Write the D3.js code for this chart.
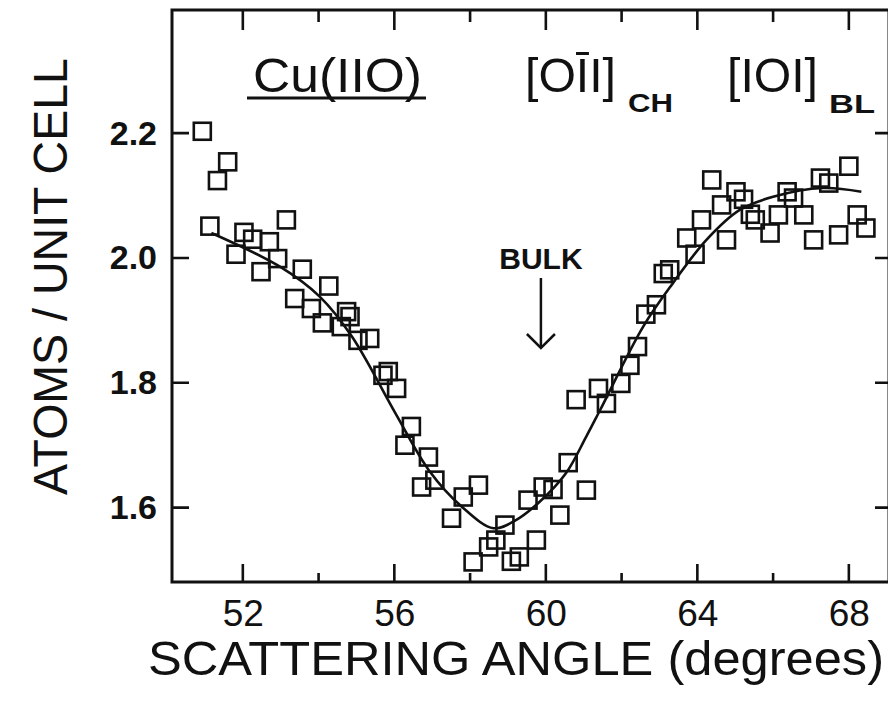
<!DOCTYPE html>
<html>
<head>
<meta charset="utf-8">
<script src="https://cdn.jsdelivr.net/npm/d3@7"></script>
<style>
  body { margin: 0; background: #fff; }
  text { font-family: "Liberation Sans", Arial, sans-serif; fill: #111; }
</style>
</head>
<body>
<svg id="fig"></svg>
<script>
// measured points: scattering angle (deg) and atoms / unit cell
const angle = [50.93, 51.33, 51.60, 51.13, 51.82, 52.03, 52.26, 52.48, 52.70, 52.92,
  53.15, 53.37, 53.57, 53.81, 54.10, 54.27, 54.60, 54.74, 54.83, 55.04,
  55.35, 55.70, 55.84, 56.06, 56.28, 56.45, 56.72, 56.90, 57.07, 57.51,
  57.82, 58.08, 58.22, 58.49, 58.68, 58.92, 59.09, 59.30, 59.53, 59.75,
  59.93, 60.19, 60.37, 60.59, 61.07, 60.80, 61.39, 61.60, 61.98, 62.22,
  62.42, 62.64, 62.92, 63.10, 63.27, 63.72, 63.94, 64.11, 64.38, 64.64,
  64.77, 65.02, 65.22, 65.40, 65.53, 65.92, 66.14, 66.37, 66.54, 66.81,
  67.07, 67.25, 67.47, 67.73, 68.00, 68.22, 68.45];
const atoms = [2.203, 2.124, 2.154, 2.051, 2.006, 2.041, 2.030, 1.978, 2.026, 1.999,
  2.061, 1.935, 1.982, 1.919, 1.896, 1.955, 1.890, 1.914, 1.906, 1.868,
  1.871, 1.812, 1.818, 1.791, 1.700, 1.730, 1.633, 1.681, 1.644, 1.583,
  1.617, 1.513, 1.636, 1.537, 1.548, 1.572, 1.514, 1.521, 1.612, 1.548,
  1.633, 1.629, 1.588, 1.672, 1.628, 1.773, 1.791, 1.767, 1.799, 1.828,
  1.858, 1.910, 1.925, 1.975, 1.981, 2.032, 2.006, 2.061, 2.125, 2.085,
  2.029, 2.106, 2.094, 2.070, 2.061, 2.040, 2.069, 2.106, 2.096, 2.069,
  2.029, 2.128, 2.120, 2.037, 2.147, 2.069, 2.048];

// fitted curve
const fitAngle = [51.17, 52.98, 54.03, 54.88, 56.03, 56.91, 57.79, 58.62, 59.21, 59.83,
  60.53, 61.06, 61.43, 62.57, 63.36, 64.24, 65.12, 66.0, 67.32, 68.33];
const fitAtoms = [2.040, 1.986, 1.938, 1.874, 1.751, 1.660, 1.601, 1.567, 1.580, 1.609,
  1.655, 1.713, 1.756, 1.890, 1.960, 2.029, 2.077, 2.098, 2.112, 2.106];

const xMajor = [52, 56, 60, 64, 68];
const xMinor = [54, 58, 62, 66];
const yTicks = [1.6, 1.8, 2.0, 2.2];
const bulkAngle = 59.87;

const width = 888, height = 704;
const box = { left: 172, right: 889, top: 10, bottom: 582 };

const svg = d3.select('#fig').attr('width', width).attr('height', height);

const x = d3.scaleLinear().domain([50.13, 69.06]).range([box.left, box.right]);
const y = d3.scaleLinear().domain([1.4808, 2.3973]).range([box.bottom, box.top]);

// frame
svg.append('rect')
  .attr('x', box.left).attr('y', box.top)
  .attr('width', box.right - box.left).attr('height', box.bottom - box.top)
  .attr('fill', 'none').attr('stroke', '#111').attr('stroke-width', 3);

// tick labels from d3 axes
const xAxis = svg.append('g').attr('transform', `translate(0,${box.bottom})`)
  .call(d3.axisBottom(x).tickValues(xMajor).tickSize(0).tickPadding(18).tickFormat(d3.format('d')));
xAxis.select('.domain').remove();
xAxis.selectAll('text').attr('font-size', 37).attr('fill', '#111');

const yAxis = svg.append('g').attr('transform', `translate(${box.left},0)`)
  .call(d3.axisLeft(y).tickValues(yTicks).tickSize(0).tickPadding(15).tickFormat(d3.format('.1f')));
yAxis.select('.domain').remove();
yAxis.selectAll('text').attr('font-size', 34).attr('font-weight', 'bold').attr('fill', '#111');

// inward tick marks on all four sides
const tickPath = d3.path();
xMajor.forEach(v => { tickPath.moveTo(x(v), box.bottom); tickPath.lineTo(x(v), box.bottom - 18); });
xMinor.forEach(v => { tickPath.moveTo(x(v), box.bottom); tickPath.lineTo(x(v), box.bottom - 9); });
xMajor.forEach(v => { tickPath.moveTo(x(v), box.top); tickPath.lineTo(x(v), box.top + 20); });
xMinor.forEach(v => { tickPath.moveTo(x(v), box.top); tickPath.lineTo(x(v), box.top + 12); });
yTicks.forEach(v => { tickPath.moveTo(box.left, y(v)); tickPath.lineTo(box.left + 17, y(v)); });
yTicks.forEach(v => { tickPath.moveTo(box.right, y(v)); tickPath.lineTo(box.right - 14, y(v)); });
svg.append('path').attr('d', tickPath.toString())
  .attr('fill', 'none').attr('stroke', '#111').attr('stroke-width', 2.6);

// fit line
const fitLine = d3.line().x(d => x(d[0])).y(d => y(d[1])).curve(d3.curveCatmullRom.alpha(0.5));
svg.append('path')
  .datum(d3.zip(fitAngle, fitAtoms))
  .attr('d', fitLine)
  .attr('fill', 'none').attr('stroke', '#111').attr('stroke-width', 2.6);

// squares
const s = 17;
svg.append('g').selectAll('rect').data(d3.zip(angle, atoms))
  .enter().append('rect')
  .attr('x', d => x(d[0]) - s / 2)
  .attr('y', d => y(d[1]) - s / 2)
  .attr('width', s).attr('height', s)
  .attr('fill', 'none').attr('stroke', '#111').attr('stroke-width', 2.6);

// axis titles
svg.append('text')
  .attr('x', 148).attr('y', 675)
  .attr('font-size', 48)
  .attr('textLength', 736).attr('lengthAdjust', 'spacingAndGlyphs')
  .text('SCATTERING ANGLE (degrees)');
svg.append('text')
  .attr('transform', 'translate(67,495) rotate(-90)')
  .attr('font-size', 48)
  .attr('textLength', 437).attr('lengthAdjust', 'spacingAndGlyphs')
  .text('ATOMS / UNIT CELL');

// annotations
svg.append('text').attr('x', 253).attr('y', 92).attr('font-size', 49)
  .attr('textLength', 169).attr('lengthAdjust', 'spacingAndGlyphs').text('Cu(IIO)');
svg.append('line').attr('x1', 247).attr('x2', 426).attr('y1', 98).attr('y2', 98)
  .attr('stroke', '#111').attr('stroke-width', 3);

svg.append('text').attr('x', 525).attr('y', 92).attr('font-size', 49)
  .attr('textLength', 91).attr('lengthAdjust', 'spacingAndGlyphs').text('[OĪI]');
svg.append('text').attr('x', 628).attr('y', 112).attr('font-size', 26).attr('font-weight', 'bold')
  .attr('textLength', 45).attr('lengthAdjust', 'spacingAndGlyphs').text('CH');
svg.append('text').attr('x', 727).attr('y', 92).attr('font-size', 49)
  .attr('textLength', 91).attr('lengthAdjust', 'spacingAndGlyphs').text('[IOI]');
svg.append('text').attr('x', 829).attr('y', 113).attr('font-size', 26).attr('font-weight', 'bold')
  .attr('textLength', 46).attr('lengthAdjust', 'spacingAndGlyphs').text('BL');

const bx = x(bulkAngle);
svg.append('text').attr('x', bx).attr('y', 269).attr('text-anchor', 'middle')
  .attr('font-size', 30).attr('font-weight', 'bold').text('BULK');
svg.append('line').attr('x1', bx).attr('x2', bx).attr('y1', 278).attr('y2', 348)
  .attr('stroke', '#111').attr('stroke-width', 2.5);
svg.append('path')
  .attr('d', `M${bx - 14},${334} L${bx},${348} L${bx + 14},${334}`)
  .attr('fill', 'none').attr('stroke', '#111').attr('stroke-width', 2.5);
</script>
</body>
</html>
